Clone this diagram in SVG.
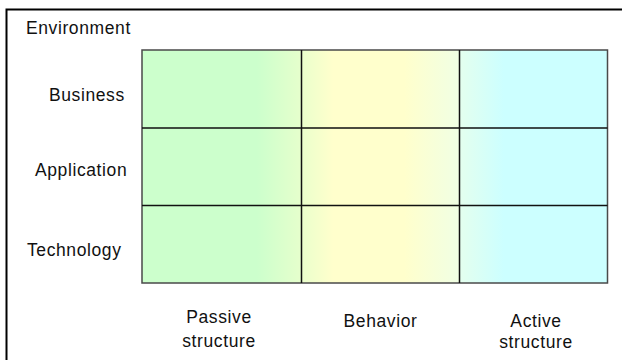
<svg xmlns="http://www.w3.org/2000/svg" width="622" height="360" viewBox="0 0 622 360">
<style>
.t{font-family:"Liberation Sans",Arial,sans-serif;font-size:17.5px;fill:#111;letter-spacing:0.6px}
.c{text-anchor:middle}
</style>
<defs>
<linearGradient id="gP" x1="0" y1="0" x2="1" y2="0">
<stop offset="0" stop-color="#CCFFCC"/>
<stop offset="0.72" stop-color="#CCFFCC"/>
<stop offset="1" stop-color="#E6FFCC"/>
</linearGradient>
<linearGradient id="gB" x1="0" y1="0" x2="1" y2="0">
<stop offset="0" stop-color="#EAFFCC"/>
<stop offset="0.2" stop-color="#FFFFCC"/>
<stop offset="0.65" stop-color="#FFFFCC"/>
<stop offset="1" stop-color="#F0FFE4"/>
</linearGradient>
<linearGradient id="gA" x1="0" y1="0" x2="1" y2="0">
<stop offset="0" stop-color="#E4FFEE"/>
<stop offset="0.3" stop-color="#CCFFFF"/>
<stop offset="1" stop-color="#CCFFFF"/>
</linearGradient>
</defs>
<rect width="622" height="360" fill="#fff"/>
<g id="environment">
<path d="M6.5 360 V9.5 H622" fill="none" stroke="#000" stroke-width="2"/>
<text class="t" x="26" y="34">Environment</text>
</g>
<g id="columns">
<rect id="passive" x="142" y="50" width="159.5" height="233" fill="url(#gP)"/>
<rect id="behavior" x="301.5" y="50" width="158" height="233" fill="url(#gB)"/>
<rect id="active" x="459.5" y="50" width="148" height="233" fill="url(#gA)"/>
</g>
<g id="grid" fill="none">
<rect x="142" y="50" width="465.5" height="233" stroke="#4a4a4a" stroke-width="1.5"/>
<path d="M142 128 H607.5 M142 205.5 H607.5 M301.5 50 V283 M459.5 50 V283" stroke="#111" stroke-width="1.5"/>
</g>
<g id="connectors"/>
<g id="row-business"><text class="t" x="49" y="101">Business</text></g>
<g id="row-application"><text class="t" x="35" y="176">Application</text></g>
<g id="row-technology"><text class="t" x="27" y="256">Technology</text></g>
<g id="col-passive"><text class="t c" x="219" y="323">Passive</text><text class="t c" x="219" y="347">structure</text></g>
<g id="col-behavior"><text class="t c" x="380.5" y="327">Behavior</text></g>
<g id="col-active"><text class="t c" x="536" y="327">Active</text><text class="t c" x="536" y="348">structure</text></g>
</svg>
